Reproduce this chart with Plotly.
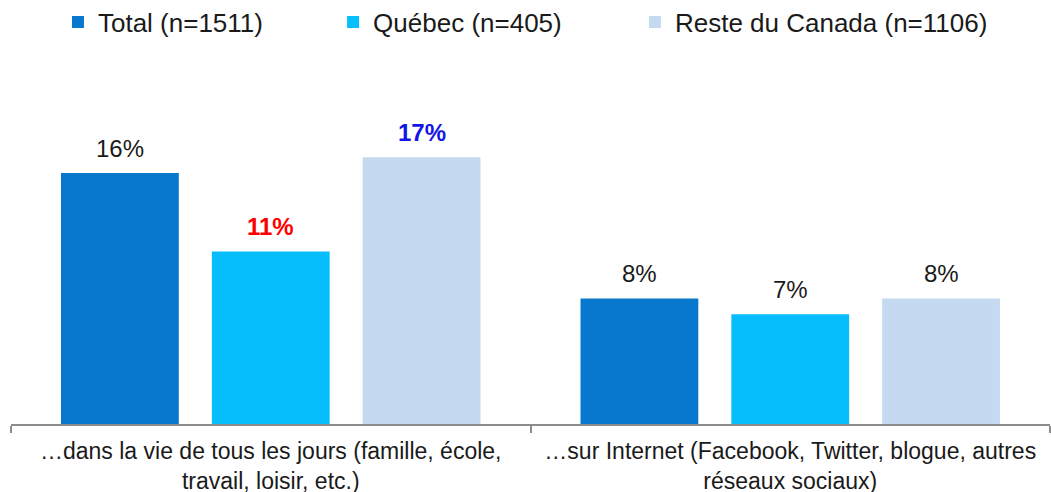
import plotly.graph_objects as go

categories = ["…dans la vie de tous les jours (famille, école,<br>travail, loisir, etc.)",
              "…sur Internet (Facebook, Twitter, blogue, autres<br>réseaux sociaux)"]
series_names = ["Total (n=1511)", "Québec (n=405)", "Reste du Canada (n=1106)"]
total = [16, 8]
quebec = [11, 7]
reste = [17, 8]
# label emphasis per series per category
label_colors = [["#1a1a1a", "#1a1a1a"], ["#FF0000", "#1a1a1a"], ["#1414E6", "#1a1a1a"]]
label_bold = [[False, False], [True, False], [True, False]]

bar_colors = ["#0778CE", "#06BEFC", "#C5DAF1"]
FONT = "Arial, Liberation Sans, sans-serif"
legend_ids = ["legend", "legend2", "legend3"]
legend_x = [0.0452, 0.3100, 0.6005]

fig = go.Figure()
values = [total, quebec, reste]
for name, vals, col, lid in zip(series_names, values, bar_colors, legend_ids):
    fig.add_trace(go.Bar(x=categories, y=vals, name=name, marker=dict(color=col, line=dict(width=0)),
                         hoverinfo="skip", legend=lid))

annotations = []
slot_px = 151
for i, vals in enumerate(values):
    for j, v in enumerate(vals):
        txt = f"{v}%"
        if label_bold[i][j]:
            txt = f"<b>{txt}</b>"
        annotations.append(dict(x=categories[j], y=v, xref="x", yref="y", text=txt, showarrow=False,
                                xshift=(i - 1) * slot_px, yshift=9, yanchor="bottom",
                                font=dict(family=FONT, size=24, color=label_colors[i][j])))

legend_common = dict(orientation="h", xanchor="left", yref="paper", y=1.104, yanchor="middle",
                     font=dict(family=FONT, size=26, color="#1a1a1a"), itemclick=False,
                     bgcolor="rgba(0,0,0,0)")

fig.update_layout(
    width=1051, height=492,
    margin=dict(l=11, r=1, t=60, b=68, autoexpand=False),
    paper_bgcolor="white", plot_bgcolor="white",
    barmode="group", bargap=0.129, bargroupgap=0.219,
    font=dict(family=FONT, size=22, color="#1a1a1a"),
    annotations=annotations,
    showlegend=True,
    legend=dict(x=legend_x[0], **legend_common),
    legend2=dict(x=legend_x[1], **legend_common),
    legend3=dict(x=legend_x[2], **legend_common),
    xaxis=dict(type="category", showline=True, linecolor="#8c8c8c", linewidth=2, automargin=False,
               ticks="outside", tickson="boundaries", ticklen=7, tickcolor="#8c8c8c", tickwidth=2,
               ticklabelstandoff=5,
               tickfont=dict(family=FONT, size=23, color="#1a1a1a"), showgrid=False, fixedrange=True),
    yaxis=dict(range=[0, 23.2], visible=False, showgrid=False, fixedrange=True),
)

fig.write_html("out.html", config={"displayModeBar": False},
               post_script="document.body.style.margin='0';")
